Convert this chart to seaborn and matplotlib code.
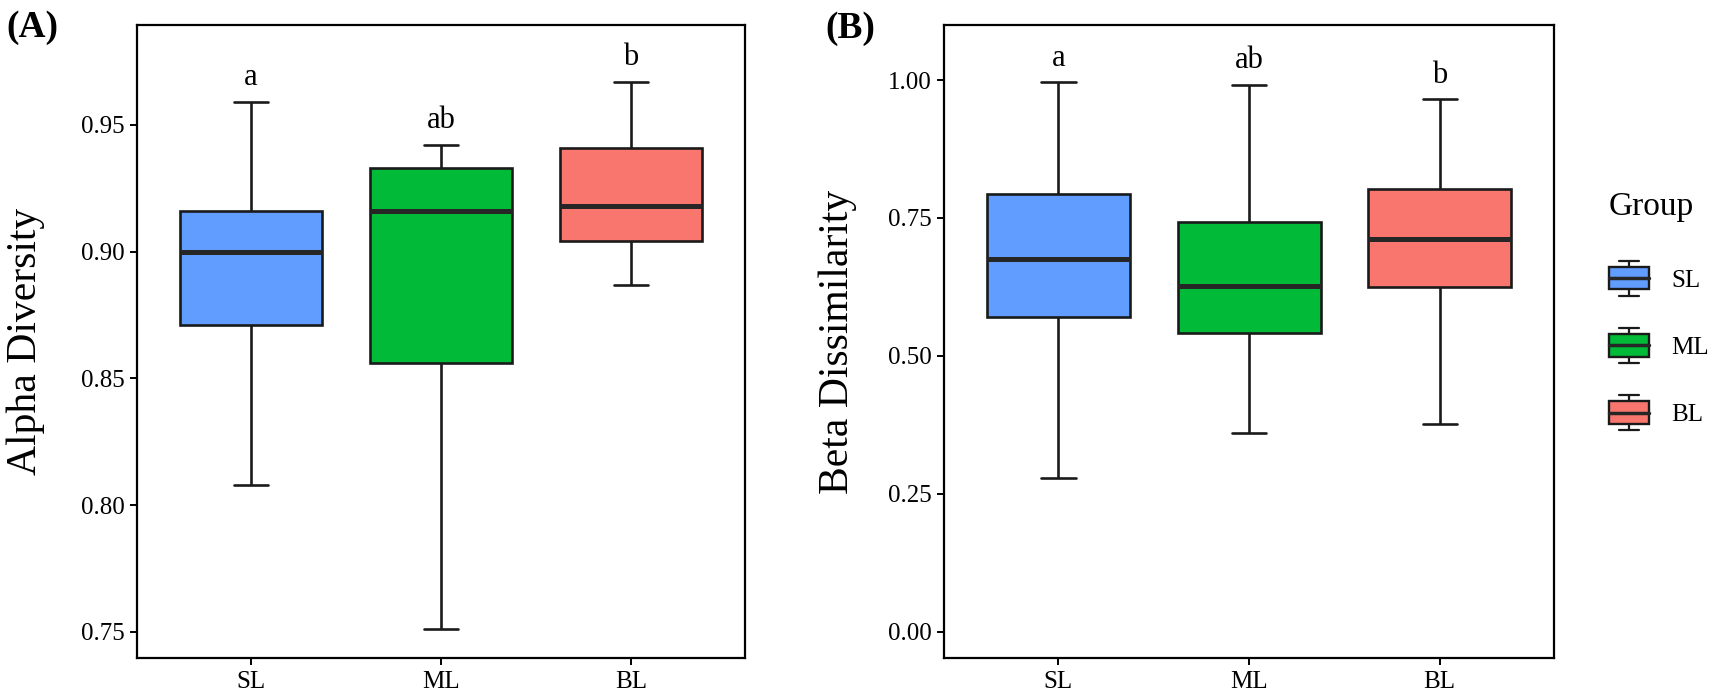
import pandas as pd
import numpy as np
import matplotlib
matplotlib.use("Agg")
import matplotlib.pyplot as plt
from matplotlib.legend_handler import HandlerBase
from matplotlib.patches import Rectangle, Patch
from matplotlib.lines import Line2D
from matplotlib.ticker import FormatStrFormatter
import seaborn as sns

# five-number summaries (min, q1, median, q3, max)
groups = ["SL", "ML", "BL"]
colors = ["#619CFF", "#00BA38", "#F8766D"]

alpha_sl = [0.808, 0.871, 0.900, 0.916, 0.959]
alpha_ml = [0.751, 0.856, 0.916, 0.933, 0.942]
alpha_bl = [0.887, 0.904, 0.918, 0.941, 0.967]

beta_sl = [0.278, 0.571, 0.676, 0.793, 0.996]
beta_ml = [0.360, 0.542, 0.627, 0.742, 0.991]
beta_bl = [0.376, 0.625, 0.711, 0.802, 0.965]

alpha_letters = ["a", "ab", "b"]
beta_letters = ["a", "ab", "b"]

alpha_ticks = [0.75, 0.80, 0.85, 0.90, 0.95]
beta_ticks = [0.00, 0.25, 0.50, 0.75, 1.00]

sns.set_style("ticks")
plt.rcParams["font.family"] = ["Liberation Serif", "DejaVu Serif"]
plt.rcParams["text.color"] = "black"
plt.rcParams["axes.labelcolor"] = "black"
plt.rcParams["xtick.color"] = "black"
plt.rcParams["ytick.color"] = "black"

EDGE = "#1a1a1a"


def long_df(values_by_group, name):
    rows = []
    for g, vals in zip(groups, values_by_group):
        for v in vals:
            rows.append({"Group": g, name: v})
    return pd.DataFrame(rows)


df_alpha = long_df([alpha_sl, alpha_ml, alpha_bl], "alpha")
df_beta = long_df([beta_sl, beta_ml, beta_bl], "beta")

fig = plt.figure(figsize=(17.13, 7.0), dpi=100)
ax1 = fig.add_axes([0.0800, 0.0600, 0.3549, 0.9043])
ax2 = fig.add_axes([0.5511, 0.0600, 0.3561, 0.9043])

palette = dict(zip(groups, colors))


def draw_panel(ax, df, col, letters, ticks, ylim, ylabel, label_x):
    sns.boxplot(data=df, x="Group", y=col, hue="Group", order=groups,
                hue_order=groups, palette=palette, width=0.75, whis=(0, 100),
                linewidth=1.9, linecolor=EDGE, fliersize=0, legend=False,
                medianprops={"linewidth": 3.6, "color": "#262626"},
                capwidths=0.18, saturation=1, ax=ax)
    ax.set_xlim(-0.6, 2.6)
    ax.set_ylim(*ylim)
    ax.set_yticks(ticks)
    ax.yaxis.set_major_formatter(FormatStrFormatter("%.2f"))
    ax.set_xlabel("")
    ax.set_ylabel(ylabel, fontsize=30, color="black")
    ax.yaxis.set_label_coords(label_x, 0.5)
    ax.tick_params(axis="both", labelsize=18, length=5, width=1.4,
                   color="black", labelcolor="black", pad=4)
    for sp in ax.spines.values():
        sp.set_visible(True)
        sp.set_linewidth(1.6)
        sp.set_color("black")
    # significance letters above the upper whisker
    tops = df.groupby("Group")[col].max()
    for i, g in enumerate(groups):
        ax.annotate(letters[i], xy=(i, tops[g]), xytext=(0, 12),
                    textcoords="offset points", ha="center", va="baseline",
                    fontsize=22, color="black")


draw_panel(ax1, df_alpha, "alpha", alpha_letters, alpha_ticks,
           (0.7397, 0.9894), "Alpha Diversity", -0.152)
draw_panel(ax2, df_beta, "beta", beta_letters, beta_ticks,
           (-0.048, 1.10), "Beta Dissimilarity", -0.142)

fig.text(0.004, 0.961, "(A)", fontsize=27, fontweight="bold",
         ha="left", va="center")
fig.text(0.4816, 0.960, "(B)", fontsize=27, fontweight="bold",
         ha="left", va="center")


class BoxHandler(HandlerBase):
    def create_artists(self, legend, orig_handle, xdescent, ydescent,
                       width, height, fontsize, trans):
        x0, y0 = -xdescent, -ydescent
        fc = orig_handle.get_facecolor()
        b0, b1 = y0 + 0.18 * height, y0 + 0.82 * height
        cx = x0 + width / 2
        cw = width * 0.25
        arts = [
            Line2D([cx, cx], [y0, b0], color=EDGE, lw=1.6),
            Line2D([cx, cx], [b1, y0 + height], color=EDGE, lw=1.6),
            Line2D([cx - cw, cx + cw], [y0, y0], color=EDGE, lw=1.6),
            Line2D([cx - cw, cx + cw], [y0 + height, y0 + height],
                   color=EDGE, lw=1.6),
            Rectangle((x0, b0), width, b1 - b0, facecolor=fc,
                      edgecolor=EDGE, lw=1.7),
            Line2D([x0, x0 + width], [y0 + height / 2, y0 + height / 2],
                   color="#262626", lw=2.5),
        ]
        for a in arts:
            a.set_transform(trans)
        return arts


handles = [Patch(facecolor=c, label=g) for g, c in zip(groups, colors)]
leg = fig.legend(handles=handles, labels=groups, title="Group",
                 handler_map={Patch: BoxHandler()}, loc="center left",
                 bbox_to_anchor=(0.932, 0.556), frameon=False, fontsize=18,
                 title_fontsize=24, alignment="left", borderpad=0,
                 handlelength=1.6, handleheight=1.75, labelspacing=1.3,
                 handletextpad=0.9)
# a little more room between the title and the entries
leg._legend_box.sep = 28

fig.savefig("out.png", dpi=100)
